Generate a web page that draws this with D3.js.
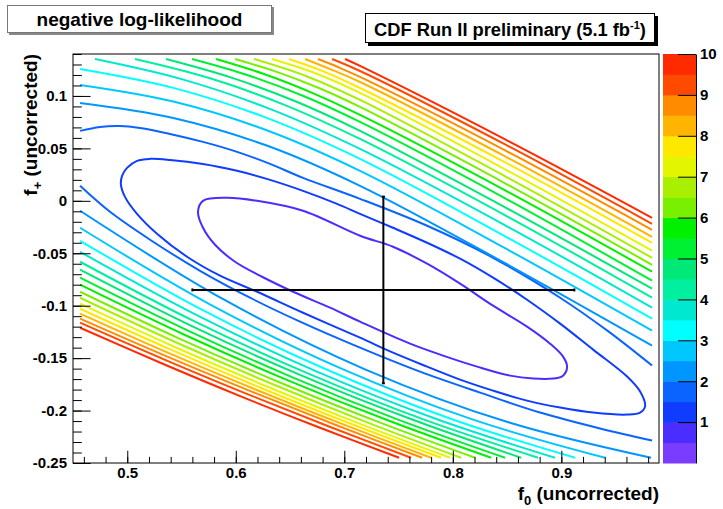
<!DOCTYPE html>
<html><head><meta charset="utf-8">
<script src="https://cdn.jsdelivr.net/npm/d3@7"></script>
<style>
body{margin:0;background:#fff}
svg{display:block}
text{font-family:"Liberation Sans",Arial,Helvetica,sans-serif;font-weight:bold;fill:#000}
</style>
</head><body>
<svg id="c" width="723" height="509"></svg>
<script>
// ---------------- data ----------------
const xDomain = [0.45, 0.99];
const yDomain = [-0.25, 0.14];
const zDomain = [0, 10];
const xTickValues = [0.5, 0.6, 0.7, 0.8, 0.9];
const xTickLabels = ['0.5', '0.6', '0.7', '0.8', '0.9'];
const yTickValues = [-0.25, -0.2, -0.15, -0.1, -0.05, 0, 0.05, 0.1];
const yTickLabels = ['-0.25', '-0.2', '-0.15', '-0.1', '-0.05', '0', '0.05', '0.1'];
const zTickValues = [1, 2, 3, 4, 5, 6, 7, 8, 9, 10];
const contourLevels = [0.5,1,1.5,2,2.5,3,3.5,4,4.5,5,5.5,6,6.5,7,7.5,8,8.5,9,9.5];
const bestFit = [0.736, -0.085];
const fitErrors = [0.176, 0.089];

// contour lines (f0, f+)
const c05 = [[.5652,-.0105],[.5698,-.0257],[.5809,-.0419],[.5993,-.0581],[.6242,-.0724],[.6528,-.0867],[.6869,-.1019],[.7145,-.1152],[.7606,-.1362],[.7910,-.1476],[.8224,-.1581],[.8528,-.1667],[.8740,-.1695],[.8924,-.1695],[.9016,-.1667],[.9053,-.1581],[.9016,-.1486],[.8896,-.1362],[.8684,-.1200],[.8371,-.1000],[.8067,-.0790],[.7763,-.0600],[.7449,-.0438],[.7145,-.0333],[.6620,-.0095],[.6196,0],[.5919,.0029],[.5698,0]];
const c10 = [[.4942,.0152],[.4979,.0038],[.5090,-.0124],[.5274,-.0314],[.5551,-.0533],[.5855,-.0714],[.6196,-.0867],[.6620,-.1067],[.7145,-.1305],[.7449,-.1448],[.7763,-.1581],[.8067,-.1705],[.8371,-.1810],[.8684,-.1905],[.8989,-.1971],[.9293,-.2019],[.9606,-.2038],[.9726,-.2019],[.9772,-.1957],[.9726,-.1819],[.9606,-.1676],[.9293,-.1419],[.8989,-.1171],[.8684,-.0943],[.8371,-.0733],[.8067,-.0552],[.7763,-.0400],[.7449,-.0257],[.7145,-.0124],[.6933,-.0029],[.6620,.0095],[.6316,.0200],[.6012,.0286],[.5698,.0352],[.5394,.0390],[.5210,.0400],[.5090,.0381],[.4998,.0314],[.4952,.0238]];
const c15u = [[.4565,.0667],[.4749,.0705],[.4933,.0714],[.5118,.0695],[.5394,.0638],[.5698,.0562],[.6012,.0467],[.6316,.0352],[.6620,.0219],[.7145,.0019],[.7763,-.0238],[.8371,-.0543],[.8989,-.0924],[.9449,-.1257],[.9836,-.1571]];
const c15l = [[.4565,.0143],[.4841,-.0105],[.5210,-.0371],[.5671,-.0667],[.6131,-.0924],[.6592,-.1152],[.7145,-.1400],[.7698,-.1629],[.8251,-.1829],[.8804,-.2019],[.9357,-.2171],[.9836,-.2286]];
const c20u = [[.4565,.0933],[.5424,.0790],[.6285,.0527],[.7145,.0143],[.8491,-.0600],[.9836,-.1381]];
const c20l = [[.4565,-.0095],[.5880,-.0936],[.7196,-.1609],[.8512,-.2112],[.9827,-.245]];
const c25u = [[.4565,.1105],[.5424,.0947],[.6285,.0673],[.7145,.0286],[.8491,-.0457],[.9836,-.1238]];
const c25l = [[.4565,-.0257],[.5774,-.0994],[.6984,-.1605],[.8194,-.2089],[.9403,-.245]];
const c30u = [[.4565,.1257],[.5424,.1077],[.6285,.0791],[.7145,.0400],[.8491,-.0343],[.9836,-.1124]];
const c30l = [[.4565,-.0381],[.5705,-.1048],[.6846,-.1613],[.7986,-.2080],[.9127,-.245]];
const c35u = [[.4703,.1352],[.5517,.1156],[.6331,.0870],[.7145,.0495],[.8491,-.0238],[.9836,-.1019]];
const c35l = [[.4565,-.0486],[.5659,-.1100],[.6753,-.1631],[.7848,-.2080],[.8942,-.245]];
const c40u = [[.5071,.1352],[.5763,.1168],[.6454,.0913],[.7145,.0590],[.8491,-.0143],[.9836,-.0924]];
const c40l = [[.4565,-.0581],[.5620,-.1150],[.6675,-.1650],[.7730,-.2084],[.8786,-.245]];
const c45u = [[.5357,.1352],[.5953,.1177],[.6549,.0949],[.7145,.0667],[.8491,-.0067],[.9836,-.0838]];
const c45l = [[.4565,-.0657],[.5581,-.1188],[.6597,-.1662],[.7613,-.2081],[.8629,-.245]];
const c50u = [[.5597,.1352],[.6113,.1197],[.6629,.0997],[.7145,.0752],[.8491,.0019],[.9836,-.0762]];
const c50l = [[.4565,-.0733],[.5544,-.1230],[.6523,-.1683],[.7502,-.2089],[.8482,-.245]];
const c55u = [[.5818,.1352],[.6260,.1209],[.6703,.1030],[.7145,.0819],[.8491,.0095],[.9836,-.0676]];
const c55l = [[.4565,-.0800],[.5512,-.1270],[.6459,-.1702],[.7406,-.2095],[.8353,-.245]];
const c60u = [[.5993,.1352],[.6377,.1230],[.6761,.1078],[.7145,.0895],[.8491,.0162],[.9836,-.0610]];
const c60l = [[.4565,-.0867],[.5475,-.1311],[.6385,-.1723],[.7295,-.2101],[.8205,-.245]];
const c65u = [[.6168,.1352],[.6657,.1186],[.7145,.0962],[.8491,.0229],[.9836,-.0543]];
const c65l = [[.4565,-.0924],[.5442,-.1346],[.6320,-.1740],[.7198,-.2108],[.8076,-.245]];
const c70u = [[.6334,.1352],[.6740,.1214],[.7145,.1029],[.8491,.0295],[.9836,-.0476]];
const c70l = [[.4565,-.0981],[.5417,-.1384],[.6270,-.1763],[.7122,-.2117],[.7975,-.245]];
const c75u = [[.6491,.1352],[.6818,.1230],[.7145,.1076],[.8491,.0362],[.9836,-.0400]];
const c75l = [[.4565,-.1029],[.5396,-.1416],[.6228,-.1782],[.7060,-.2126],[.7892,-.245]];
const c80u = [[.6638,.1352],[.6892,.1246],[.7145,.1133],[.8491,.0419],[.9836,-.0343]];
const c80l = [[.4565,-.1076],[.5373,-.1448],[.6182,-.1799],[.6991,-.2132],[.7800,-.245]];
const c85u = [[.6758,.1352],[.6952,.1271],[.7145,.1181],[.8491,.0476],[.9836,-.0276]];
const c85l = [[.4565,-.1124],[.5353,-.1479],[.6141,-.1817],[.6929,-.2140],[.7717,-.245]];
const c90u = [[.6887,.1352],[.7145,.1238],[.8491,.0533],[.9836,-.0219]];
const c90l = [[.4565,-.1162],[.5327,-.1507],[.6090,-.1836],[.6853,-.2150],[.7615,-.245]];
const c95u = [[.7007,.1352],[.7145,.1286],[.8491,.0581],[.9836,-.0162]];
const c95l = [[.4565,-.1210],[.5300,-.1542],[.6035,-.1860],[.6770,-.2162],[.7505,-.245]];

// palette of the 20 colour bands, bottom (0) to top (10)
const palette = ['#7a3cff','#4a2dff','#0f3cff','#0a64ff','#0096ff','#00c8ff','#00ffff','#00e8d0','#00f0a0','#00e878',
                 '#00f032','#00f000','#78f000','#a8f000','#e4f500','#ffe800','#ffb400','#ff8c00','#ff4a00','#ff2a00'];

const segments = [
  {level:0.5, pts:c05, closed:true}, {level:1, pts:c10, closed:true},
  {level:1.5, pts:c15u}, {level:1.5, pts:c15l}, {level:2, pts:c20u}, {level:2, pts:c20l},
  {level:2.5, pts:c25u}, {level:2.5, pts:c25l}, {level:3, pts:c30u}, {level:3, pts:c30l},
  {level:3.5, pts:c35u}, {level:3.5, pts:c35l}, {level:4, pts:c40u}, {level:4, pts:c40l},
  {level:4.5, pts:c45u}, {level:4.5, pts:c45l}, {level:5, pts:c50u}, {level:5, pts:c50l},
  {level:5.5, pts:c55u}, {level:5.5, pts:c55l}, {level:6, pts:c60u}, {level:6, pts:c60l},
  {level:6.5, pts:c65u}, {level:6.5, pts:c65l}, {level:7, pts:c70u}, {level:7, pts:c70l},
  {level:7.5, pts:c75u}, {level:7.5, pts:c75l}, {level:8, pts:c80u}, {level:8, pts:c80l},
  {level:8.5, pts:c85u}, {level:8.5, pts:c85l}, {level:9, pts:c90u}, {level:9, pts:c90l},
  {level:9.5, pts:c95u}, {level:9.5, pts:c95l}
];

// ---------------- drawing ----------------
const W = 723, H = 509;
const plot = {left:73, right:659, top:54, bottom:463};
const svg = d3.select('#c');
svg.append('rect').attr('width',W).attr('height',H).attr('fill','#fff');

const x = d3.scaleLinear().domain(xDomain).range([plot.left, plot.right]);
const y = d3.scaleLinear().domain(yDomain).range([plot.bottom, plot.top]);
const z = d3.scaleLinear().domain(zDomain).range([plot.bottom, plot.top]);
const bandColor = d3.scaleQuantize().domain(zDomain).range(palette);

svg.append('defs').append('clipPath').attr('id','clip')
  .append('rect').attr('x',plot.left).attr('y',plot.top)
  .attr('width',plot.right-plot.left).attr('height',plot.bottom-plot.top);

const gC = svg.append('g').attr('clip-path','url(#clip)');
const lineOpen = d3.line().x(d=>x(d[0])).y(d=>y(d[1])).curve(d3.curveCatmullRom.alpha(0.5));
const lineClosed = d3.line().x(d=>x(d[0])).y(d=>y(d[1])).curve(d3.curveCatmullRomClosed.alpha(0.5));
gC.selectAll('path.ct').data(segments).join('path')
  .attr('class','ct')
  .attr('d', s => (s.closed ? lineClosed : lineOpen)(s.pts))
  .attr('fill','none')
  .attr('stroke', s => bandColor(s.level + 0.25))
  .attr('stroke-width',2)
  .attr('stroke-linejoin','round')
  .attr('stroke-linecap','butt');

// error cross
const gE = svg.append('g').attr('stroke','#000').attr('stroke-width',2);
gE.append('line').attr('x1',x(bestFit[0]-fitErrors[0])).attr('x2',x(bestFit[0]+fitErrors[0]))
  .attr('y1',y(bestFit[1])).attr('y2',y(bestFit[1]));
gE.append('line').attr('x1',x(bestFit[0])).attr('x2',x(bestFit[0]))
  .attr('y1',y(bestFit[1]-fitErrors[1])).attr('y2',y(bestFit[1]+fitErrors[1]));
[-1,1].forEach(sx=>{
  const xe = x(bestFit[0]+sx*fitErrors[0]);
  gE.append('line').attr('x1',xe).attr('x2',xe).attr('y1',y(bestFit[1])-1.5).attr('y2',y(bestFit[1])+1.5);
});
[-1,1].forEach(sy=>{
  const ye = y(bestFit[1]+sy*fitErrors[1]);
  gE.append('line').attr('y1',ye).attr('y2',ye).attr('x1',x(bestFit[0])-1.5).attr('x2',x(bestFit[0])+1.5);
});

// frame
svg.append('rect').attr('x',plot.left).attr('y',plot.top)
  .attr('width',plot.right-plot.left).attr('height',plot.bottom-plot.top)
  .attr('fill','none').attr('stroke','#000').attr('stroke-width',1);

// axes (ticks inside the frame, ROOT style)
const fs = 15;
const yMajor = d3.axisLeft(y).tickValues(yTickValues).tickSizeInner(-17.6).tickSizeOuter(0).tickPadding(6)
  .tickFormat((d,i) => yTickLabels[i]);
const gy = svg.append('g').attr('transform',`translate(${plot.left},0)`).call(yMajor);
const yMinor = d3.axisLeft(y).tickValues(d3.range(-25,15).map(v=>v/100)).tickSizeInner(-8.8).tickSizeOuter(0).tickFormat('');
const gym = svg.append('g').attr('transform',`translate(${plot.left},0)`).call(yMinor);

const xMajor = d3.axisBottom(x).tickValues(xTickValues).tickSizeInner(-12.2).tickSizeOuter(0).tickPadding(4)
  .tickFormat((d,i) => xTickLabels[i]);
const gx = svg.append('g').attr('transform',`translate(0,${plot.bottom})`).call(xMajor);
const xMinor = d3.axisBottom(x).tickValues(d3.range(46,99,2).map(v=>v/100)).tickSizeInner(-6.1).tickSizeOuter(0).tickFormat('');
const gxm = svg.append('g').attr('transform',`translate(0,${plot.bottom})`).call(xMinor);

[gy,gym,gx,gxm].forEach(g=>{
  g.select('.domain').remove();
  g.selectAll('.tick line').attr('stroke','#000').attr('stroke-width',1);
  g.selectAll('text').attr('font-size',fs).attr('font-family','"Liberation Sans",Arial,sans-serif').attr('font-weight','bold').attr('fill','#000');
});

// colour bar
const cb = {x0:663, x1:696};
const bands = d3.range(palette.length).map(i => [zDomain[0] + i*(zDomain[1]-zDomain[0])/palette.length,
                                                 zDomain[0] + (i+1)*(zDomain[1]-zDomain[0])/palette.length]);
svg.append('g').selectAll('rect').data(bands).join('rect')
  .attr('x',cb.x0).attr('width',cb.x1-cb.x0)
  .attr('y',d=>z(d[1])).attr('height',d=>z(d[0])-z(d[1])+0.5)
  .attr('fill',(d,i)=>palette[i]);
const zAxis = d3.axisRight(z).tickValues(zTickValues).tickSizeInner(-18).tickSizeOuter(0).tickPadding(4);
const gz = svg.append('g').attr('transform',`translate(${cb.x1},0)`).call(zAxis);
gz.select('.domain').attr('stroke','#000');
gz.selectAll('.tick line').attr('stroke','#000');
gz.selectAll('text').attr('font-size',fs).attr('font-family','"Liberation Sans",Arial,sans-serif').attr('font-weight','bold').attr('fill','#000');

// axis titles
const xt = svg.append('text').attr('x',plot.right).attr('y',500).attr('text-anchor','end').attr('font-size',19);
xt.append('tspan').text('f');
xt.append('tspan').attr('font-size',13).attr('dy',5).text('0');
xt.append('tspan').attr('dy',-5).text(' (uncorrected)');

const yt = svg.append('text').attr('transform',`translate(37,${plot.top}) rotate(-90)`).attr('text-anchor','end').attr('font-size',19);
yt.append('tspan').text('f');
yt.append('tspan').attr('font-size',13).attr('dy',5).text('+');
yt.append('tspan').attr('dy',-5).text(' (uncorrected)');

// title pave
svg.append('rect').attr('x',9).attr('y',7).attr('width',265).attr('height',28).attr('fill','#888');
svg.append('rect').attr('x',7.5).attr('y',5.5).attr('width',264).attr('height',27).attr('fill','#fff').attr('stroke','#777').attr('stroke-width',1);
svg.append('text').attr('x',139.5).attr('y',26).attr('text-anchor','middle').attr('font-size',19).text('negative log-likelihood');

// CDF pave
svg.append('rect').attr('x',368).attr('y',16).attr('width',290).attr('height',30).attr('fill','#000');
svg.append('rect').attr('x',365.5).attr('y',13.5).attr('width',289).attr('height',29).attr('fill','#fff').attr('stroke','#000').attr('stroke-width',1);
const ct = svg.append('text').attr('x',510).attr('y',36).attr('text-anchor','middle').attr('font-size',18.3);
ct.append('tspan').text('CDF Run II preliminary (5.1 fb');
ct.append('tspan').attr('font-size',11).attr('dy',-7).text('-1');
ct.append('tspan').attr('dy',7).text(')');
</script>
</body></html>
